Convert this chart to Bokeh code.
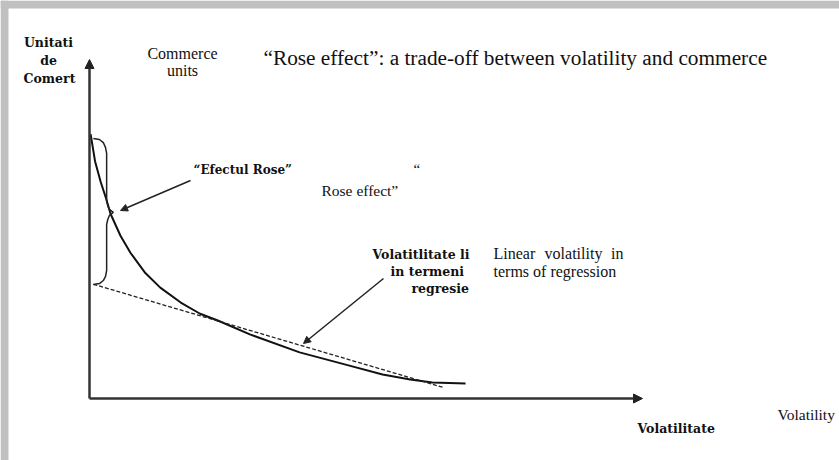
from bokeh.plotting import figure
from bokeh.models import Range1d, Label, Arrow, NormalHead, BoxAnnotation
from bokeh.embed import file_html
from bokeh.resources import INLINE

# ---- data (nominal units: volatility 0..10, commerce units 0..10) ----
volatility = [0.02, 0.1, 0.2, 0.3, 0.38, 0.56, 0.74, 1.01, 1.28, 1.65, 2.0, 2.32, 2.9, 3.8, 4.7, 5.3, 5.8, 6.2, 6.8]
commerce = [7.8, 7.0, 6.4, 5.9, 5.45, 4.8, 4.3, 3.7, 3.27, 2.83, 2.5, 2.3, 1.89, 1.36, 0.97, 0.71, 0.56, 0.47, 0.44]

regression_x = [0.07, 6.41]
regression_y = [3.37, 0.32]

brace_x = [0.07, 0.18, 0.25, 0.29, 0.31, 0.31, 0.33, 0.36, 0.43, 0.36, 0.33, 0.31, 0.31, 0.29, 0.25, 0.18, 0.07]
brace_y = [7.67, 7.64, 7.55, 7.40, 7.23, 5.84, 5.69, 5.58, 5.49, 5.40, 5.28, 5.13, 3.78, 3.60, 3.48, 3.39, 3.36]

axis_max = 10

# ---- layout helpers (image pixel -> nominal units) ----
OX, OY, SX, SY = 89.0, 398.0, 55.3, 33.9
def X(px):
    return (px - OX) / SX
def Y(py):
    return (OY - py) / SY

W, H = 839, 460
p = figure(width=W, height=H, x_range=Range1d(X(0), X(W)), y_range=Range1d(Y(H), Y(0)),
           x_axis_type=None, y_axis_type=None, toolbar_location=None, output_backend="svg",
           min_border=0)
p.grid.visible = False
p.outline_line_color = None
p.background_fill_color = "white"
p.border_fill_color = "white"

# grey scan border (top and left)
p.add_layout(BoxAnnotation(left=X(0), right=X(W), top=Y(0), bottom=Y(8), fill_color="#c0c0c0",
                           fill_alpha=1, line_color=None))
p.add_layout(BoxAnnotation(left=X(0), right=X(8), top=Y(0), bottom=Y(H), fill_color="#c0c0c0",
                           fill_alpha=1, line_color=None))

# axes with arrow heads
p.add_layout(Arrow(x_start=0, y_start=0, x_end=0, y_end=axis_max, line_width=2.5, line_color="#333333",
                   end=NormalHead(size=9, fill_color="#222222", line_color="#222222")))
p.add_layout(Arrow(x_start=0, y_start=0, x_end=axis_max, y_end=0, line_width=2.5, line_color="#333333",
                   end=NormalHead(size=9, fill_color="#222222", line_color="#222222")))

# curve, regression line, brace
p.line(volatility, commerce, line_color="#111111", line_width=2)
p.line(regression_x, regression_y, line_color="#222222", line_width=1.3, line_dash="4 2")
p.line(brace_x, brace_y, line_color="#222222", line_width=1.5)

# pointer arrows
p.add_layout(Arrow(x_start=X(190), y_start=Y(180), x_end=X(120), y_end=Y(210), line_width=1.5,
                   line_color="#222222", end=NormalHead(size=7, fill_color="#222222", line_color="#222222")))
p.add_layout(Arrow(x_start=X(383), y_start=Y(278), x_end=X(303), y_end=Y(343), line_width=1.5,
                   line_color="#222222", end=NormalHead(size=7, fill_color="#222222", line_color="#222222")))

RO = "DejaVu Serif"
EN = "Liberation Serif"

def lab(text, px, py, font, size, bold=False, align="left"):
    p.add_layout(Label(x=X(px), y=Y(py), text=text, text_font=font, text_font_size=size,
                       text_font_style="bold" if bold else "normal", text_align=align,
                       text_baseline="alphabetic", text_color="#111111"))

# Romanian labels
lab("Unitati", 48, 42, RO, "12.5px", True, "center")
lab("de", 48, 60, RO, "12.5px", True, "center")
lab("Comert", 49, 78, RO, "12.5px", True, "center")
lab("\u201cEfectul Rose\u201d", 193, 169, RO, "12px", True)
lab("Volatitlitate li", 372, 254, RO, "12.5px", True)
lab("in termeni", 390, 271, RO, "12.5px", True)
lab("regresie", 411, 288, RO, "12.5px", True)
lab("Volatilitate", 637, 428, RO, "12.5px", True)

# English overlay texts
lab("Commerce", 182, 53, EN, "16px", False, "center")
lab("units", 182, 70, EN, "16px", False, "center")
lab("\u201cRose effect\u201d: a trade-off between volatility and commerce", 263, 57, EN, "21.3px")
lab("\u201c", 413, 168, EN, "15px")
lab("Rose effect\u201d", 321, 190, EN, "15.5px")
lab("Linear", 493, 253, EN, "16px")
lab("volatility", 573, 253, EN, "16px", False, "center")
lab("in", 623, 253, EN, "16px", False, "right")
lab("terms of regression", 493, 271, EN, "16px")
lab("Volatility", 777, 414, EN, "15.5px")

open("out.html", "w").write(file_html(p, INLINE))
